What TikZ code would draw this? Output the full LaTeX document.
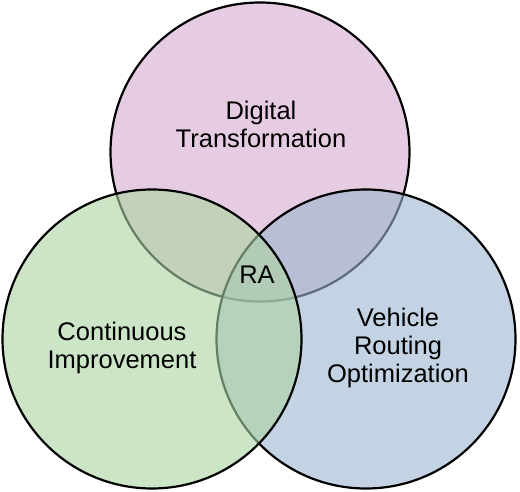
\documentclass[tikz,border=0pt]{standalone}
\usepackage{fontspec}
\setmainfont{Liberation Sans}
\usepackage{tikz}
\definecolor{dtpink}{RGB}{213,170,207}
\definecolor{cigreen}{RGB}{172,212,162}
\definecolor{vroblue}{RGB}{157,182,208}
\tikzstyle{ring}=[circle,draw=black,line width=2.2,fill opacity=0.6,minimum size=299,inner sep=0pt]
\tikzstyle{topic}=[align=center,inner sep=0pt,font=\fontsize{25.5}{28}\selectfont]
\tikzstyle{core}=[inner sep=0pt,font=\fontsize{25.5}{28}\selectfont]

\begin{document}
\begin{tikzpicture}[x=1pt,y=-1pt]
	\useasboundingbox (0,0) rectangle (520,492);
	% the three areas, drawn top, right, left
	\node [style=ring, fill=dtpink] (DT) at (260, 152) {};
	\node [style=ring, fill=vroblue] (VRO) at (366, 339) {};
	\node [style=ring, fill=cigreen] (CI) at (152, 339) {};

	\node [style=topic] (dtText) at (261, 124) {Digital\\Transformation};
	\node [style=topic] (ciText) at (122, 348) {Continuous\\Improvement};
	\node [style=topic] (vroText) at (398, 348) {Vehicle\\Routing\\Optimization};
	\node [style=core] (ra) at (257, 275) {RA};
\end{tikzpicture}
\end{document}
